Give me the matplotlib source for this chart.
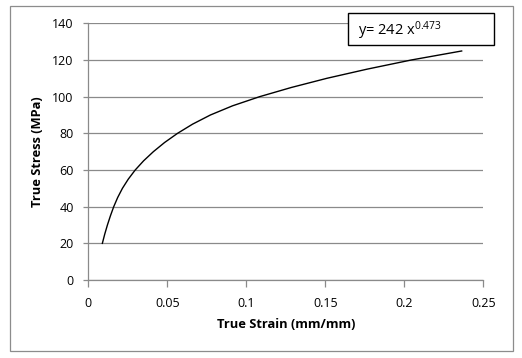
import numpy as np
import matplotlib.pyplot as plt
from matplotlib.patches import Rectangle

# values
strain = [0.0089, 0.0104, 0.0121, 0.0140, 0.0161, 0.0186, 0.0216, 0.0253,
          0.0297, 0.0350, 0.0412, 0.0483, 0.0565, 0.0660, 0.0773, 0.0913,
          0.1085, 0.1285, 0.1510, 0.1765, 0.2045, 0.2363]
stress = [20.0, 25.0, 30.0, 35.0, 40.0, 45.0, 50.0, 55.0,
          60.0, 65.0, 70.0, 75.0, 80.0, 85.0, 90.0, 95.0,
          100.0, 105.0, 110.0, 115.0, 120.0, 124.9]

x_ticks = [0, 0.05, 0.1, 0.15, 0.2, 0.25]
x_tick_labels = ["0", "0.05", "0.1", "0.15", "0.2", "0.25"]
y_ticks = [0, 20, 40, 60, 80, 100, 120, 140]
fit_label = r"y= 242 x$^{0.473}$"

plt.rcParams['font.family'] = ['Open Sans', 'DejaVu Sans']
plt.rcParams['mathtext.fontset'] = 'custom'
plt.rcParams['mathtext.rm'] = 'Open Sans'
plt.rcParams['mathtext.it'] = 'Open Sans'

W, H = 522, 358
fig = plt.figure(figsize=(W / 100, H / 100), dpi=100)
ax = fig.add_axes([88.3 / W, 1 - 280 / H, 395 / W, 256.7 / H])

# chart area border
fig.patches.append(Rectangle((9.7 / W, 1 - 351 / H), 503.5 / W, 345 / H,
                             transform=fig.transFigure, fill=False,
                             edgecolor="#8c8c8c", linewidth=0.9))

ax.plot(strain, stress, color="black", linewidth=1.0)

ax.set_xlim(0, 0.25)
ax.set_ylim(0, 140)
ax.set_xticks(x_ticks)
ax.set_xticklabels(x_tick_labels)
ax.set_yticks(y_ticks)
ax.grid(axis="y", color="#8a8a8a", linewidth=0.9)
ax.set_axisbelow(True)
for s in ["top", "right"]:
    ax.spines[s].set_visible(False)
for s in ["left", "bottom"]:
    ax.spines[s].set_color("#8a8a8a")
    ax.spines[s].set_linewidth(0.9)
ax.tick_params(colors="#8a8a8a", labelcolor="black", labelsize=9,
               width=0.9)
ax.tick_params(axis="x", length=5, pad=7)
ax.tick_params(axis="y", length=3.5, pad=7)

ax.set_xlabel("True Strain (mm/mm)", fontsize=9.3, fontweight="bold", labelpad=6)
ax.set_ylabel("True Stress (MPa)", fontsize=9.3, fontweight="bold", labelpad=6)

# equation box
fig.patches.append(Rectangle((347.7 / W, 1 - 45 / H), 146.6 / W, 31.7 / H,
                             transform=fig.transFigure, fill=True,
                             facecolor="white", edgecolor="black",
                             linewidth=1.0, zorder=5))
fig.text(358 / W, 1 - 31 / H, fit_label, fontsize=10.5, va="center",
         ha="left", zorder=6)

fig.savefig("out.png", dpi=100)
